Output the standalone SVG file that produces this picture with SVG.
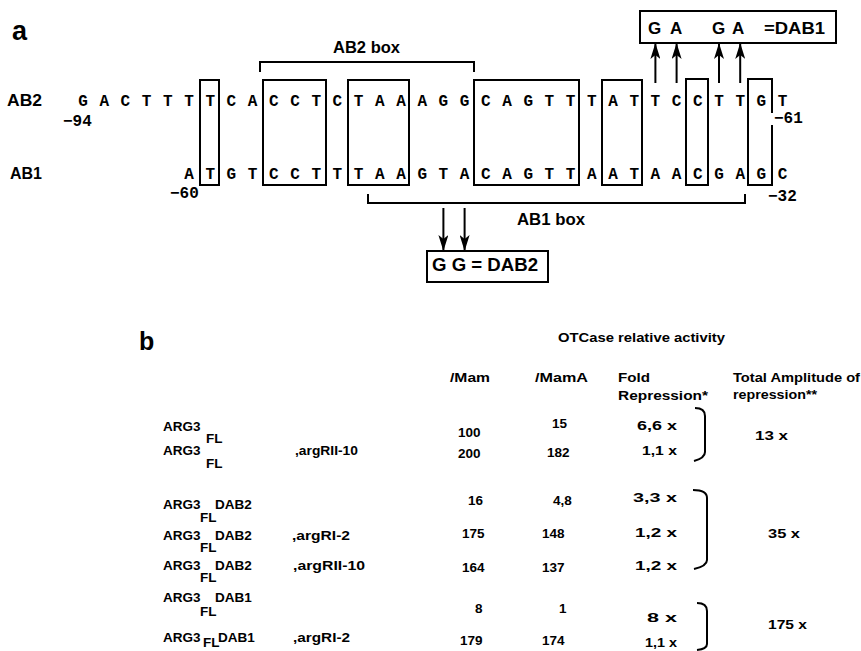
<svg xmlns="http://www.w3.org/2000/svg" width="861" height="651" viewBox="0 0 861 651">
<style>
.seq{font-family:"Liberation Mono","DejaVu Sans Mono",monospace;font-weight:bold;font-size:16px;fill:#000;text-anchor:middle}
.pos{font-family:"Liberation Mono","DejaVu Sans Mono",monospace;font-weight:bold;font-size:16px;fill:#000}
.lab{font-family:"Liberation Sans",Arial,sans-serif;font-weight:bold;fill:#000}
.box{fill:none;stroke:#000;stroke-width:2}
.br{fill:none;stroke:#000;stroke-width:2}
.t{font-family:"Liberation Sans",Arial,sans-serif;font-weight:bold;font-size:13.5px;fill:#000}
.e{text-anchor:end}
.arr{stroke:#000;stroke-width:2;fill:none;marker-end:url(#ah)}
</style>
<defs>
<marker id="ah" markerUnits="userSpaceOnUse" viewBox="0 0 16 10" markerWidth="16" markerHeight="10" refX="15" refY="5" orient="auto">
<path d="M0,0 L16,5 L0,10 L4,5 Z" fill="#000"/>
</marker>
</defs>
<rect width="861" height="651" fill="#fff"/>

<!-- Part a -->
<text class="lab" x="12" y="40" font-size="27">a</text>
<text class="lab" x="7" y="106" font-size="16" textLength="35" lengthAdjust="spacingAndGlyphs">AB2</text>
<text class="lab" x="10" y="179" font-size="16" textLength="32" lengthAdjust="spacingAndGlyphs">AB1</text>

<g id="seq-ab2">
<text class="seq" y="106" x="83 104.2 125.4 146.6 167.8 189 210.2 231.4 252.6 273.8 295 316.2 337.4 358.6 379.8 401 422.2 443.4 464.6 485.8 507 528.2 549.4 570.6 591.8 613 634.2 655.4 676.6 697.8 719 740.2 761.4 782.6">GACTTTTCACCTCTAAAGGCAGTTTATTCCTTGT</text>
<text class="pos" x="63" y="126">−94</text>
<text class="pos" x="774" y="123">−61</text>
</g>
<g id="seq-ab1">
<text class="seq" y="179" x="189 210.2 231.4 252.6 273.8 295 316.2 337.4 358.6 379.8 401 422.2 443.4 464.6 485.8 507 528.2 549.4 570.6 591.8 613 634.2 655.4 676.6 697.8 719 740.2 761.4 782.6">ATGTCCTTTAAGTACAGTTAATAACGAGC</text>
<text class="pos" x="170" y="198">−60</text>
<text class="pos" x="768" y="201">−32</text>
</g>

<g id="homology-boxes">
<rect class="box" x="200" y="80" width="19" height="105"/>
<rect class="box" x="263" y="80" width="63" height="105"/>
<rect class="box" x="348" y="80" width="61" height="105"/>
<rect class="box" x="474" y="80" width="105" height="105"/>
<rect class="box" x="602" y="80" width="40" height="105"/>
<rect class="box" x="686" y="79" width="22" height="106"/>
<path class="box" d="M772,113 V79 H748 V185 H772 V125"/>
</g>

<g id="ab2-box">
<path class="br" d="M260,72 V62 H474 V72"/>
<text class="lab" x="333" y="53" font-size="16" textLength="67" lengthAdjust="spacingAndGlyphs">AB2 box</text>
</g>
<g id="ab1-box">
<path class="br" d="M368,194 V203 H745 V194"/>
<text class="lab" x="517" y="225" font-size="16" textLength="68" lengthAdjust="spacingAndGlyphs">AB1 box</text>
</g>

<g id="dab1">
<rect class="box" x="640" y="11" width="196" height="32"/>
<text class="lab" y="34" font-size="17"><tspan x="648">G</tspan> <tspan x="670">A</tspan> <tspan x="712">G</tspan> <tspan x="732">A</tspan> <tspan x="764" textLength="61" lengthAdjust="spacingAndGlyphs">=DAB1</tspan></text>
</g>
<g id="dab2">
<rect class="box" x="427" y="251" width="121" height="31"/>
<text class="lab" x="432" y="271" font-size="18" textLength="106" lengthAdjust="spacingAndGlyphs">G G = DAB2</text>
</g>

<g id="connectors">
<line class="arr" x1="655.4" y1="83" x2="655.4" y2="44"/>
<line class="arr" x1="676.6" y1="83" x2="676.6" y2="44"/>
<line class="arr" x1="719" y1="83" x2="719" y2="44"/>
<line class="arr" x1="740.2" y1="83" x2="740.2" y2="44"/>
<line class="arr" x1="443.4" y1="208" x2="443.4" y2="250"/>
<line class="arr" x1="464.6" y1="208" x2="464.6" y2="250"/>
</g>

<!-- Part b -->
<text class="lab" x="139" y="350" font-size="25">b</text>
<g id="headers">
<text class="t" x="558" y="342" textLength="167" lengthAdjust="spacingAndGlyphs">OTCase relative activity</text>
<text class="t" x="450" y="382" textLength="40" lengthAdjust="spacingAndGlyphs">/Mam</text>
<text class="t" x="535" y="382" textLength="53" lengthAdjust="spacingAndGlyphs">/MamA</text>
<text class="t" x="618" y="382" textLength="32" lengthAdjust="spacingAndGlyphs">Fold</text>
<text class="t" x="618" y="400" textLength="90" lengthAdjust="spacingAndGlyphs">Repression*</text>
<text class="t" x="733" y="382" textLength="127" lengthAdjust="spacingAndGlyphs">Total Amplitude of</text>
<text class="t" x="733" y="399" textLength="84" lengthAdjust="spacingAndGlyphs">repression**</text>
</g>

<g id="row1">
<text class="t" x="163" y="431">ARG3</text><text class="t" x="206" y="443" font-size="12">FL</text>
<text class="t" x="458" y="437">100</text>
<text class="t" x="552" y="428">15</text>
<text class="t e" x="677" y="430" textLength="40" lengthAdjust="spacingAndGlyphs">6,6 x</text>
</g>
<g id="row2">
<text class="t" x="163" y="455">ARG3</text><text class="t" x="206" y="468" font-size="12">FL</text>
<text class="t" x="295" y="455" textLength="63" lengthAdjust="spacingAndGlyphs">,argRII-10</text>
<text class="t" x="458" y="458">200</text>
<text class="t" x="547" y="457">182</text>
<text class="t e" x="677" y="455" textLength="35" lengthAdjust="spacingAndGlyphs">1,1 x</text>
</g>
<g id="group1-total">
<path class="br" d="M695,408 Q705,408 705,416 L705,452 Q705,458 694,461"/>
<text class="t" x="755" y="440" textLength="33" lengthAdjust="spacingAndGlyphs">13 x</text>
</g>

<g id="row3">
<text class="t" x="163" y="509">ARG3</text><text class="t" x="200" y="522" font-size="12">FL</text><text class="t" x="215" y="509">DAB2</text>
<text class="t" x="468" y="505">16</text>
<text class="t" x="553" y="505">4,8</text>
<text class="t e" x="677" y="502" textLength="44" lengthAdjust="spacingAndGlyphs">3,3 x</text>
</g>
<g id="row4">
<text class="t" x="163" y="540">ARG3</text><text class="t" x="200" y="552" font-size="12">FL</text><text class="t" x="215" y="540">DAB2</text>
<text class="t" x="292" y="540" textLength="58" lengthAdjust="spacingAndGlyphs">,argRI-2</text>
<text class="t" x="462" y="538">175</text>
<text class="t" x="542" y="538">148</text>
<text class="t e" x="677" y="537" textLength="42" lengthAdjust="spacingAndGlyphs">1,2 x</text>
</g>
<g id="row5">
<text class="t" x="163" y="570">ARG3</text><text class="t" x="200" y="582" font-size="12">FL</text><text class="t" x="215" y="570">DAB2</text>
<text class="t" x="293" y="570" textLength="72" lengthAdjust="spacingAndGlyphs">,argRII-10</text>
<text class="t" x="462" y="572">164</text>
<text class="t" x="542" y="572">137</text>
<text class="t e" x="677" y="570" textLength="42" lengthAdjust="spacingAndGlyphs">1,2 x</text>
</g>
<g id="group2-total">
<path class="br" d="M693,490 Q707,490 707,498 L707,560 Q707,566 694,569"/>
<text class="t" x="768" y="538" textLength="32" lengthAdjust="spacingAndGlyphs">35 x</text>
</g>

<g id="row6">
<text class="t" x="163" y="602">ARG3</text><text class="t" x="200" y="616" font-size="12">FL</text><text class="t" x="215" y="602">DAB1</text>
<text class="t" x="475" y="613">8</text>
<text class="t" x="559" y="613">1</text>
<text class="t e" x="677" y="622" textLength="30" lengthAdjust="spacingAndGlyphs">8 x</text>
</g>
<g id="row7">
<text class="t" x="163" y="642">ARG3</text><text class="t" x="203" y="647" font-size="10">FL</text><text class="t" x="218" y="642">DAB1</text>
<text class="t" x="293" y="642" textLength="57" lengthAdjust="spacingAndGlyphs">,argRI-2</text>
<text class="t" x="460" y="645">179</text>
<text class="t" x="542" y="645">174</text>
<text class="t e" x="677" y="647" textLength="32" lengthAdjust="spacingAndGlyphs">1,1 x</text>
</g>
<g id="group3-total">
<path class="br" d="M697,603 Q707,603 707,611 L707,644 Q707,649 697,650"/>
<text class="t" x="768" y="629" textLength="39" lengthAdjust="spacingAndGlyphs">175 x</text>
</g>
</svg>
